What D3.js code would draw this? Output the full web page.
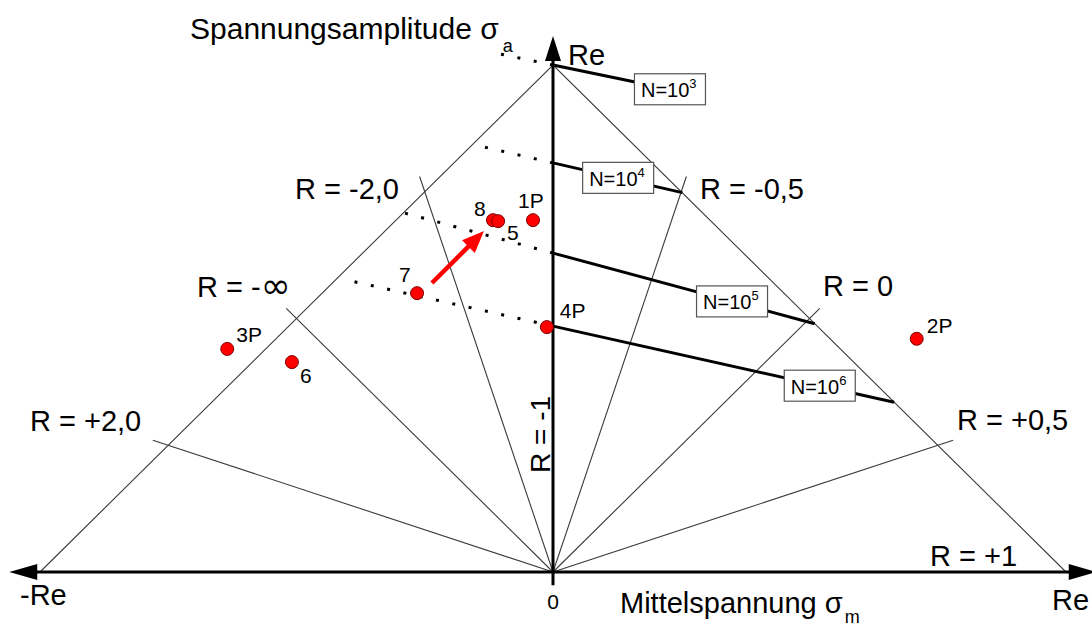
<!DOCTYPE html>
<html><head><meta charset="utf-8">
<script src="https://cdn.jsdelivr.net/npm/d3@7"></script>
<style>
html,body{margin:0;padding:0;background:#fff;}
svg{display:block;font-family:"Liberation Sans",Arial,sans-serif;}
</style></head>
<body>
<svg id="c" width="1092" height="628"></svg>
<script>
// ---------- data ----------
// R-ratio rays (R = sigma_min / sigma_max)
const rValues = [-Infinity, -2, -0.5, 0, 0.5, 2];
const rLabels = ["R = -\u221E", "R = -2,0", "R = -0,5", "R = 0", "R = +0,5", "R = +2,0"];
// constant-life lines N = 10^k : amplitude at sigma_m = 0, slope, right end, dotted left end, label position
const nExponents = ["3", "4", "5", "6"];
const nIntercept = [1.0, 0.807, 0.629, 0.485];
const nSlope = [-0.21, -0.233, -0.273, -0.226];
const nSolidEnd = [0.16, 0.252, 0.51, 0.665];
const nDottedEnd = [-0.103, -0.136, -0.30, -0.40];
const nBoxAt = [0.228, 0.127, 0.349, 0.52];
// test points (sigma_m / Re, sigma_a / Re)
const pointNames = ["1P", "8", "5", "7", "4P", "3P", "6", "2P"];
const pointMean = [-0.039, -0.117, -0.107, -0.265, -0.012, -0.635, -0.509, 0.709];
const pointAmp = [0.694, 0.694, 0.692, 0.550, 0.483, 0.440, 0.414, 0.460];
// arrow from point 7 towards points 8/5
const arrowFrom = [-0.236, 0.570];
const arrowTo = [-0.1345, 0.6726];
// tick on the mean-stress axis
const xTickValues = [0];
const xTickLabels = ["0"];

// ---------- layout ----------
const svg = d3.select("#c");
const x = d3.scaleLinear().domain([-1, 1]).range([40, 1066]);
const y = d3.scaleLinear().domain([0, 1]).range([572, 65]);
const FONT = 29;

// triangle edges
svg.append("path")
  .attr("d", d3.line().x(d => x(d[0])).y(d => y(d[1]))([[-1, 0], [0, 1], [1, 0]]))
  .attr("fill", "none").attr("stroke", "#3a3a3a").attr("stroke-width", 1.1);

// R rays: direction (1+R, 1-R), extended slightly past the triangle edge
const ext = 1.04;
rValues.forEach((R, i) => {
  let dm, da;
  if (!isFinite(R)) { dm = -1; da = 1; }
  else { dm = 1 + R; da = 1 - R; if (da < 0) { dm = -dm; da = -da; } }
  const t = 1 / (Math.abs(dm) + da) * ext;
  svg.append("line")
    .attr("x1", x(0)).attr("y1", y(0))
    .attr("x2", x(dm * t)).attr("y2", y(da * t))
    .attr("stroke", "#3a3a3a").attr("stroke-width", 1.1);
});

// constant life lines
nExponents.forEach((e, i) => {
  const f = m => nIntercept[i] + nSlope[i] * m;
  svg.append("line")
    .attr("x1", x(0)).attr("y1", y(f(0)))
    .attr("x2", x(nSolidEnd[i])).attr("y2", y(f(nSolidEnd[i])))
    .attr("stroke", "#000").attr("stroke-width", 3);
  svg.append("line")
    .attr("x1", x(0)).attr("y1", y(f(0)))
    .attr("x2", x(nDottedEnd[i])).attr("y2", y(f(nDottedEnd[i])))
    .attr("stroke", "#000").attr("stroke-width", 3)
    .attr("stroke-dasharray", "3,13.7");
});

// axes
const axisW = 3;
svg.append("line").attr("x1", x(-1.035)).attr("y1", y(0)).attr("x2", x(1.035)).attr("y2", y(0))
  .attr("stroke", "#000").attr("stroke-width", axisW);
svg.append("line").attr("x1", x(0)).attr("y1", y(-0.026)).attr("x2", x(0)).attr("y2", y(1.01))
  .attr("stroke", "#000").attr("stroke-width", axisW);
function arrowHead(tx, ty, ang, len, half) {
  const c = Math.cos(ang), s = Math.sin(ang);
  const bx = tx - c * len, by = ty - s * len;
  return `M${tx},${ty}L${bx - s * half},${by + c * half}L${bx + s * half},${by - c * half}Z`;
}
svg.append("path").attr("d", arrowHead(x(0), y(1.057), -Math.PI / 2, 25, 8)).attr("fill", "#000");
svg.append("path").attr("d", arrowHead(x(-1.06), y(0), Math.PI, 28, 8)).attr("fill", "#000");
svg.append("path").attr("d", arrowHead(x(1.06), y(0), 0, 28, 8)).attr("fill", "#000");

// tick labels
xTickValues.forEach((v, i) => {
  svg.append("text").attr("x", x(v)).attr("y", y(0) + 37).attr("text-anchor", "middle")
    .style("font-size", "21px").text(xTickLabels[i]);
});

// N boxes
nExponents.forEach((e, i) => {
  const bx = x(nBoxAt[i]), by = y(nIntercept[i] + nSlope[i] * nBoxAt[i]);
  svg.append("rect").attr("x", bx - 35.5).attr("y", by - 15.5).attr("width", 71).attr("height", 31)
    .attr("fill", "#fff").attr("stroke", "#555").attr("stroke-width", 1.2);
  const t = svg.append("text").attr("x", bx - 29).attr("y", by + 8).style("font-size", "20px");
  t.append("tspan").text("N=10");
  t.append("tspan").attr("dy", -9).style("font-size", "13px").text(e);
});

// red arrow
const ang = Math.atan2(y(arrowTo[1]) - y(arrowFrom[1]), x(arrowTo[0]) - x(arrowFrom[0]));
const headLen = 22;
svg.append("line").attr("x1", x(arrowFrom[0])).attr("y1", y(arrowFrom[1]))
  .attr("x2", x(arrowTo[0]) - Math.cos(ang) * headLen * 0.8).attr("y2", y(arrowTo[1]) - Math.sin(ang) * headLen * 0.8)
  .attr("stroke", "#ff0000").attr("stroke-width", 4.5);
svg.append("path").attr("d", arrowHead(x(arrowTo[0]), y(arrowTo[1]), ang, headLen, 9)).attr("fill", "#ff0000");

// points
const labelOff = {"1P": [-15, -12], "8": [-19, -4], "5": [9, 19], "7": [-18, -11], "4P": [13, -9], "3P": [9, -7], "6": [8, 21], "2P": [10, -6]};
pointNames.forEach((n, i) => {
  svg.append("circle").attr("cx", x(pointMean[i])).attr("cy", y(pointAmp[i])).attr("r", 6.5)
    .attr("fill", "#ff0000").attr("stroke", "#7a0000").attr("stroke-width", 1);
});
pointNames.forEach((n, i) => {
  const o = labelOff[n];
  svg.append("text").attr("x", x(pointMean[i]) + o[0]).attr("y", y(pointAmp[i]) + o[1])
    .style("font-size", "21px").text(n);
});

// R labels (pixel positions of text start / baseline)
const rLabelPos = [[197, 297], [295, 199], [700, 199], [823, 296], [957, 430], [30, 431]];
rLabels.forEach((l, i) => {
  const t = svg.append("text").attr("x", rLabelPos[i][0]).attr("y", rLabelPos[i][1]).style("font-size", FONT + "px");
  if (l.indexOf("\u221E") >= 0) {
    t.append("tspan").text(l.replace("\u221E", ""));
    t.append("tspan").style("font-family", "DejaVu Sans").style("font-size", "36px").attr("dy", 1).text("\u221E");
  } else {
    t.text(l);
  }
});
svg.append("text").attr("x", 930).attr("y", 566).style("font-size", FONT + "px").text("R = +1");
svg.append("text").attr("transform", `translate(550,473) rotate(-90)`).style("font-size", (FONT - 1) + "px").text("R = -1");

// axis titles
const t1 = svg.append("text").attr("x", 190).attr("y", 39).style("font-size", "30px");
t1.append("tspan").text("Spannungsamplitude \u03C3");
t1.append("tspan").attr("dx", 4).attr("dy", 13).style("font-size", "18px").text("a");
const t2 = svg.append("text").attr("x", 620).attr("y", 613).style("font-size", "29px");
t2.append("tspan").text("Mittelspannung \u03C3");
t2.append("tspan").attr("dx", 2).attr("dy", 10).style("font-size", "18px").text("m");
svg.append("text").attr("x", 568).attr("y", 65).style("font-size", "29px").text("Re");
svg.append("text").attr("x", 20).attr("y", 605).style("font-size", "29px").text("-Re");
svg.append("text").attr("x", 1052).attr("y", 610).style("font-size", "29px").text("Re");
</script>
</body></html>
